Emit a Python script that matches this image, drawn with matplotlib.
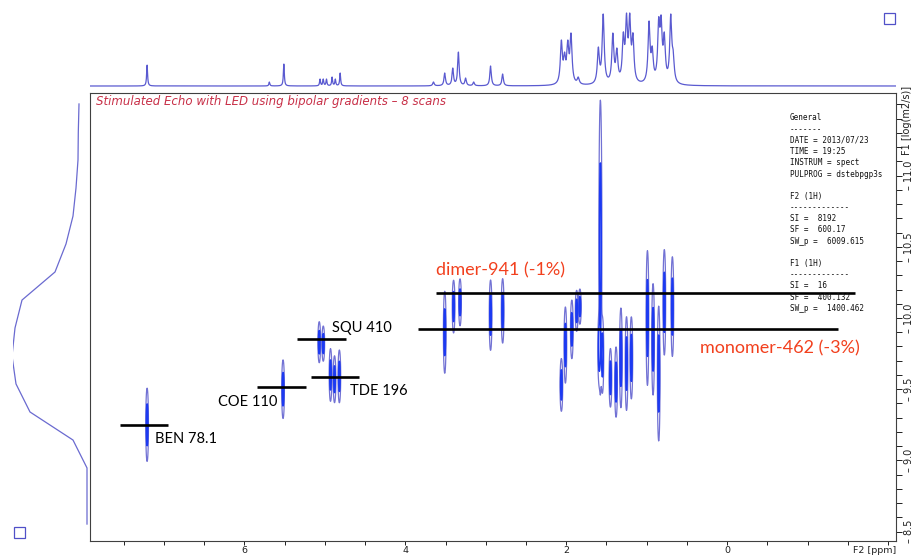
import numpy as np
import matplotlib
matplotlib.use("Agg")
import matplotlib.pyplot as plt
from matplotlib.patches import Rectangle

W, H, DPI = 913, 556, 100

# Axis ranges: F2 = 1H shift [ppm], F1 = log(D) [log(m2/s)]
F2_LIMITS = (7.92, -2.10)
F1_LIMITS = (8.434, 11.58)

# 1H (F2) projection: peak positions [ppm] and heights
h1_ppm = [7.21, 5.69, 5.51, 5.06, 5.02, 4.98, 4.91, 4.87, 4.81,
          3.65, 3.51, 3.41, 3.34, 3.25, 3.15, 2.94, 2.79,
          2.06, 2.02, 1.98, 1.94, 1.85,
          1.60, 1.54, 1.42, 1.37, 1.29, 1.25, 1.21, 1.17, 1.12,
          0.97, 0.93, 0.85, 0.82, 0.78, 0.70, 0.67]
h1_height = [21, 4, 22, 7, 7, 7, 9, 7, 13,
             4, 13, 18, 34, 8, 4, 20, 12,
             46, 34, 46, 53, 9,
             39, 72, 53, 38, 54, 73, 73, 53, 6,
             65, 40, 69, 71, 54, 72, 36]

# Diffusion (F1) projection, 16 points
f1_logd = [8.553, 8.750, 8.947, 9.143, 9.340, 9.537, 9.733, 9.930,
           10.126, 10.323, 10.520, 10.716, 10.913, 11.110, 11.306, 11.503]
f1_proj = [1, 1, 1, 15, 58, 72, 76, 73, 66, 33, 22, 15, 12, 10, 9.7, 9]

# DOSY cross peaks: 1H shift, log(D) centre and spread along F1
dosy_ppm = [7.21, 5.52, 5.07, 5.02, 4.93, 4.88, 4.82,
            3.51, 3.40, 3.32, 2.94, 2.79,
            2.06, 2.01, 1.93, 1.87, 1.83,
            1.575, 1.59, 1.55,
            1.45, 1.38, 1.32, 1.25, 1.19,
            0.99, 0.92, 0.85, 0.78, 0.68]
dosy_logd = [9.25, 9.50, 9.83, 9.82, 9.60, 9.57, 9.59,
             9.90, 10.08, 10.11, 10.02, 10.05,
             9.53, 9.81, 9.92, 10.05, 10.08,
             10.50, 9.78, 9.74,
             9.58, 9.55, 9.72, 9.68, 9.72,
             10.00, 9.85, 9.61, 10.11, 10.08]
dosy_spread = [0.125, 0.10, 0.07, 0.06, 0.09, 0.08, 0.09,
               0.14, 0.09, 0.08, 0.12, 0.11,
               0.09, 0.13, 0.10, 0.07, 0.06,
               0.50, 0.12, 0.13,
               0.10, 0.12, 0.17, 0.16, 0.14,
               0.23, 0.19, 0.23, 0.18, 0.17]

# Assigned species: label, log(D) and F2 extent of the marker line
species = ["BEN 78.1", "COE 110", "TDE 196", "SQU 410",
           "dimer-941 (-1%)", "monomer-462 (-3%)"]
species_logd = [9.249, 9.515, 9.586, 9.853, 10.176, 9.923]
species_from = [7.55, 5.85, 5.17, 5.35, 3.62, 3.84]
species_to = [6.95, 5.24, 4.58, 4.74, -1.59, -1.38]

# Acquisition parameters
params = ["General", "-------", "DATE = 2013/07/23", "TIME = 19:25",
          "INSTRUM = spect", "PULPROG = dstebpgp3s", "",
          "F2 (1H)", "-------------", "SI =  8192", "SF =  600.17",
          "SW_p =  6009.615", "",
          "F1 (1H)", "-------------", "SI =  16", "SF =  400.132",
          "SW_p =  1400.462"]

TITLE = "Stimulated Echo with LED using bipolar gradients \u2013 8 scans"

fig = plt.figure(figsize=(W / DPI, H / DPI), dpi=DPI)


def px_axes(left, top, right, bottom):
    return fig.add_axes([left / W, 1 - bottom / H,
                         (right - left) / W, (bottom - top) / H])


def lorentz(x, p, w):
    return w ** 2 / ((x - p) ** 2 + w ** 2)


# ---------------- main 2D DOSY panel ----------------
ax = px_axes(90, 93, 896, 541)
ax.set_xlim(*F2_LIMITS)
ax.set_ylim(*F1_LIMITS)

ppm = np.linspace(-2.2, 8.0, 4000)
logd = np.linspace(8.3, 11.7, 700)
Z = np.zeros((logd.size, ppm.size))
for p, d, s in zip(dosy_ppm, dosy_logd, dosy_spread):
    sx = 0.009 if s > 0.3 else 0.008
    gx = np.exp(-0.5 * ((ppm - p) / sx) ** 2)
    gy = np.exp(-0.5 * ((logd - d) / s) ** 2)
    Z += np.outer(gy, gx)
ax.contour(ppm, logd, Z, levels=[0.12, 0.5],
           colors=["#7272d4", "#1c3af2"], linewidths=[0.9, 1.1])

for lab, d, a, b in zip(species, species_logd, species_from, species_to):
    ax.plot([a, b], [d, d], color="black", lw=1.9, solid_capstyle="butt")

# species labels (anchor ppm, log D, alignment)
label_layout = [(7.115, 9.150, "left"), (5.585, 9.410, "right"),
                (4.689, 9.487, "left"), (4.913, 9.930, "left"),
                (3.619, 10.337, "left"), (0.336, 9.789, "left")]
for lab, (x, y, ha) in zip(species, label_layout):
    red = lab.startswith(("dimer", "monomer"))
    ax.text(x, y, lab, ha=ha, va="center", family="Lato",
            fontsize=13 if red else 10.5,
            color="#f2401e" if red else "black")

ax.text(0.008, 0.982, TITLE, transform=ax.transAxes, ha="left", va="center",
        fontsize=8.5, style="italic", color="#c83048")

for spine in ax.spines.values():
    spine.set_color("#404040")
    spine.set_linewidth(0.8)

# F2 axis (bottom)
xt = np.arange(-2.0, 7.6, 0.5)
ax.set_xticks(xt)
ax.set_xticklabels(["%d" % v if (v % 2 == 0 and v >= 0) else "" for v in xt])
ax.tick_params(axis="x", direction="out", length=3, width=0.7,
               labelsize=6.8, pad=0.5, colors="#202020")
ax.text(1.0, -0.021, "F2 [ppm]", transform=ax.transAxes, ha="right",
        va="center", fontsize=6.8, color="#202020")

# F1 axis (right)
ax.yaxis.tick_right()
yt = np.round(np.arange(8.5, 11.55, 0.1), 1)
ax.set_yticks(yt)
ax.set_yticklabels(["\u2013 %.1f" % v if (round(v * 10) % 5 == 0 and v <= 11.0)
                    else "" for v in yt])
ax.tick_params(axis="y", direction="out", length=4, width=0.7,
               labelsize=7, pad=2, labelrotation=90, colors="#202020")
for t in ax.get_yticklabels():
    t.set_va("center")
fig.text(907 / W, 1 - 120 / H, "F1 [log(m2/s)]", rotation=90,
         ha="center", va="center", fontsize=7, color="#202020")

# parameter listing
for i, line in enumerate(params):
    if line:
        fig.text(790 / W, 1 - (118 + i * 11.2) / H, line, ha="left",
                 va="center", family="DejaVu Sans Mono", fontsize=5.5,
                 color="#101010")

# ---------------- top 1H projection ----------------
axt = px_axes(90, 2, 896, 88)
axt.set_xlim(*F2_LIMITS)
axt.set_ylim(-2, 84)
widths = np.array([0.007 if p > 4.5 else (0.011 if p > 2.5 else 0.015)
                   for p in h1_ppm])
pk = np.array(h1_ppm)
# amplitudes chosen so that the summed trace passes through each peak height
K = np.array([[lorentz(pi, pj, wj) for pj, wj in zip(pk, widths)] for pi in pk])
amps = np.clip(np.linalg.solve(K, np.array(h1_height, float)), 0, None)
grid = np.linspace(-2.2, 8.0, 8000)
spec = np.zeros_like(grid)
for p, a, w in zip(pk, amps, widths):
    spec += a * lorentz(grid, p, w)
axt.plot(grid, spec, color="#5a5ad0", lw=0.9)
axt.axis("off")

# ---------------- left F1 projection ----------------
axl = px_axes(13, 93, 88, 541)
axl.set_ylim(*F1_LIMITS)
axl.set_xlim(75, 0)
axl.plot(f1_proj, f1_logd, color="#6a6ad0", lw=0.9)
axl.axis("off")

# small marker squares
for (x0, y0) in [(884, 13), (14, 527)]:
    fig.patches.append(Rectangle((x0 / W, 1 - (y0 + 11) / H), 11 / W, 11 / H,
                                 transform=fig.transFigure, fill=False,
                                 edgecolor="#5050c8", lw=0.9))

fig.savefig("out.png", dpi=DPI)
